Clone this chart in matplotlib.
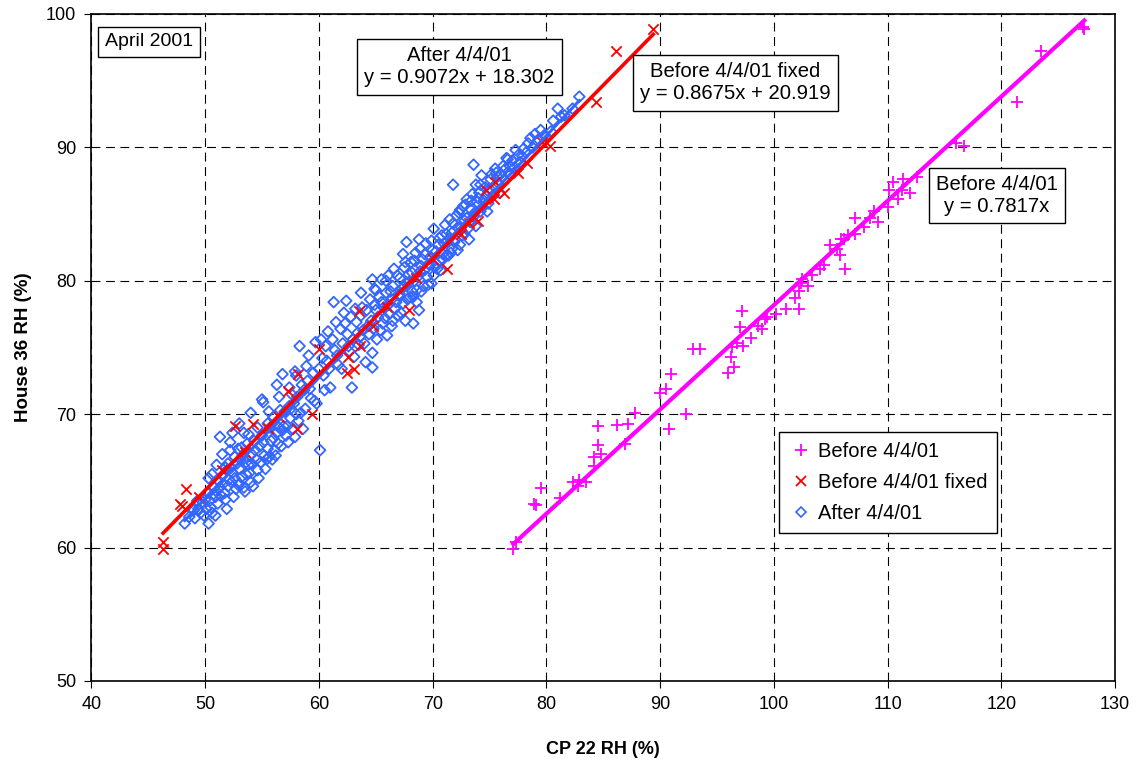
import numpy as np
import matplotlib
matplotlib.use("Agg")
import matplotlib.pyplot as plt
from matplotlib.lines import Line2D

plt.rcParams['font.family'] = ['Liberation Sans', 'DejaVu Sans']

# Before 4/4/01 (magenta +)
before_x = [77.3, 77.1, 79.5, 78.9, 79.1, 81.2, 82.3, 82.9, 82.8, 83.5, 84.2, 84.2, 84.8, 84.5, 84.5,
            86.9, 86.2, 87.2, 87.8, 90.0, 90.5, 92.3, 90.8, 91.0, 92.9, 93.5, 96.0, 96.5, 96.2, 96.3,
            97.2, 97.0, 96.8, 97.3, 98.0, 98.6, 99.0, 99.2, 99.4, 100.2, 101.1, 101.9, 102.2, 102.2,
            102.4, 102.5, 103.0, 103.4, 104.1, 104.4, 104.9, 105.6, 105.8, 105.9, 106.2, 106.3, 106.5,
            107.1, 107.1, 107.9, 108.5, 108.8, 109.2, 110.0, 110.1, 110.5, 110.9, 111.3, 111.4, 112.0,
            112.6, 116.0, 116.7, 121.4, 123.5, 127.2, 127.3]
before_y = [60.4, 59.9, 64.5, 63.3, 63.2, 63.7, 64.9, 65.1, 64.6, 64.9, 66.1, 66.8, 67.0, 67.7, 69.1,
            67.8, 69.2, 69.3, 70.1, 71.6, 71.9, 70.0, 68.9, 73.0, 74.9, 74.9, 73.1, 73.5, 74.3, 75.0,
            77.7, 76.5, 75.3, 75.1, 75.7, 76.6, 76.4, 77.1, 77.3, 77.5, 77.9, 78.7, 77.9, 79.2,
            79.8, 80.1, 79.6, 80.4, 80.9, 81.2, 82.7, 82.4, 81.9, 83.1, 83.1, 80.9, 83.4,
            83.5, 84.7, 84.0, 84.7, 85.2, 84.4, 85.5, 86.8, 87.4, 86.1, 86.8, 87.6, 86.6,
            87.8, 90.3, 90.1, 93.4, 97.2, 99.0, 98.9]

# Before 4/4/01 fixed (red x)
fixed_x = [46.3, 46.3, 47.8, 48.0, 48.3, 49.5, 51.5, 52.6, 53.5, 54.2, 55.5, 56.5, 57.3, 58.1, 58.2,
           59.4, 60.0, 62.5, 62.6, 63.1, 63.6, 63.5, 64.8, 66.0, 67.9, 68.5, 70.0, 71.3, 72.5, 73.2,
           74.0, 74.7, 75.5, 76.3, 75.4, 77.5, 78.3, 79.6, 80.3, 84.4, 86.1, 89.4]
fixed_y = [60.4, 59.9, 63.3, 63.1, 64.4, 63.8, 65.8, 69.1, 67.2, 69.3, 69.0, 69.8, 71.7, 68.9, 73.0,
           70.0, 74.9, 73.1, 74.3, 73.4, 75.1, 77.7, 76.6, 78.0, 77.8, 80.2, 81.6, 80.9, 83.5, 84.3,
           84.5, 86.8, 87.4, 86.6, 86.1, 88.1, 88.8, 90.4, 90.1, 93.4, 97.2, 98.9]

# After 4/4/01 (blue diamonds)
after_x = [48.2, 48.6, 49.0, 49.1, 49.4, 49.6, 49.8, 50.0, 50.2, 50.3, 50.3, 50.5, 50.6, 50.8, 50.9,
           51.0, 51.2, 51.3, 51.4, 51.6, 51.8, 51.9, 51.9, 52.0, 52.2, 52.2, 52.3, 52.4, 52.6, 52.7,
           52.9, 53.0, 53.1, 53.2, 53.4, 53.5, 53.6, 53.8, 54.0, 54.0, 54.1, 54.3, 54.5, 54.7, 54.8,
           55.0, 55.0, 55.1, 55.2, 55.4, 55.5, 55.6, 55.8, 56.0, 56.1, 56.3, 56.3, 56.4, 56.6, 56.8,
           56.9, 57.1, 57.3, 57.4, 57.6, 57.9, 57.9, 58.0, 58.3, 58.4, 58.6, 58.7, 59.0, 59.1, 59.3,
           59.7, 59.8, 60.0, 60.1, 60.2, 60.4, 60.7, 61.0, 61.3, 61.4, 61.7, 61.9, 62.1, 62.4, 62.5,
           62.7, 62.9, 63.0, 63.3, 63.5, 63.7, 63.9, 64.1, 64.2, 64.4, 64.6, 64.7, 64.7, 64.7, 64.9,
           65.1, 65.2, 65.3, 65.5, 65.6, 65.7, 65.9, 66.0, 66.1, 66.2, 66.4, 66.4, 66.5, 66.6, 66.7,
           66.9, 67.0, 67.1, 67.3, 67.4, 67.4, 67.5, 67.6, 67.7, 67.7, 67.9, 68.0, 68.1, 68.3, 68.3,
           68.4, 68.5, 68.6, 68.8, 68.8, 68.9, 68.9, 69.1, 69.2, 69.4, 69.5, 69.7, 69.9, 70.0, 70.1,
           70.2, 70.4, 70.5, 70.6, 70.8, 70.9, 71.1, 71.2, 71.3, 71.5, 71.6, 71.7, 71.8, 71.9, 72.1,
           72.3, 72.4, 72.5, 72.7, 72.8, 73.0, 73.0, 73.2, 73.3, 73.5, 73.6, 73.6, 73.8, 73.9, 74.1,
           74.2, 74.3, 74.5, 74.6, 74.9, 74.9, 75.1, 75.3, 75.5, 75.6, 75.8, 76.0, 76.4, 76.5, 76.6,
           76.8, 77.2, 77.5, 77.9, 78.2, 78.4, 78.8, 79.3, 79.8, 80.4, 81.0, 81.6, 82.3, 82.9,
           50.1, 50.4, 50.7, 50.9, 51.1, 51.3, 51.5, 51.7, 51.8, 52.0, 52.1, 52.3, 52.5, 52.6, 52.8,
           52.9, 53.0, 53.2, 53.3, 53.4, 53.6, 53.7, 53.9, 54.1, 54.2, 54.4, 54.6, 54.9, 55.1, 55.3,
           55.5, 55.7, 55.9, 56.0, 56.2, 56.5, 56.7, 56.8, 57.0, 57.2, 57.5, 57.7, 57.8, 58.1, 58.2,
           58.5, 58.8, 59.2, 59.5, 59.6, 60.3, 60.5, 60.9, 61.2, 61.6, 62.0, 62.3, 62.6, 62.8, 63.1,
           63.4, 63.6, 63.8, 64.0, 64.3, 64.5, 64.8, 65.0, 65.0, 65.4, 65.5, 65.8, 65.9, 66.1, 66.3,
           66.5, 66.8, 66.9, 67.1, 67.2, 67.5, 67.6, 67.8, 67.9, 68.2, 68.2, 68.4, 68.6, 68.7, 69.0,
           69.0, 69.3, 69.3, 69.6, 69.8, 69.9, 70.1, 70.3, 70.3, 70.6, 70.7, 70.9, 71.0, 71.2, 71.4,
           71.5, 71.7, 71.8, 72.0, 72.2, 72.2, 72.4, 72.6, 72.8, 72.9, 73.1, 73.3, 73.4, 73.7, 73.8,
           74.0, 74.2, 74.4, 74.7, 74.8, 75.0, 75.2, 75.4, 75.7, 75.9, 76.2, 76.3, 76.7, 77.0, 77.3,
           77.7, 78.0, 78.6, 79.0, 79.5, 80.0, 80.6, 81.3, 56.5, 57.4, 58.9, 60.6, 55.6, 54.6, 53.8,
           61.5, 63.2, 62.2, 64.9, 63.7, 60.8, 58.0, 49.3, 49.9, 50.6, 51.0, 51.5, 52.4, 53.0]
after_y = [61.8, 62.3, 62.8, 62.2, 62.9, 62.6, 63.4, 63.6, 64.1, 61.8, 65.2, 63.0, 62.6, 64.5, 63.8,
           64.2, 65.0, 68.3, 63.9, 64.8, 63.6, 62.9, 65.8, 66.3, 67.9, 67.3, 64.9, 65.6, 66.8, 64.4,
           64.7, 65.9, 66.6, 67.5, 68.6, 64.2, 65.5, 66.2, 64.9, 70.1, 67.0, 68.0, 66.6, 65.2, 67.6,
           71.1, 68.4, 70.9, 66.9, 66.6, 69.3, 66.8, 68.0, 69.8, 67.3, 68.6, 72.2, 67.8, 70.3, 73.0,
           69.1, 68.4, 67.9, 70.6, 71.5, 68.3, 73.2, 70.0, 75.1, 70.1, 68.9, 71.8, 72.5, 74.4, 71.2,
           75.4, 70.8, 73.4, 67.3, 75.6, 72.9, 74.0, 72.0, 78.4, 74.8, 73.7, 76.4, 75.3, 78.5, 76.0,
           74.7, 72.0, 75.6, 76.9, 75.2, 77.4, 76.3, 73.9, 77.8, 76.0, 77.0, 73.5, 74.6, 80.1, 78.2,
           75.6, 77.3, 78.8, 80.1, 76.8, 78.0, 79.1, 75.9, 80.4, 77.5, 76.6, 78.6, 79.6, 80.9, 77.9,
           77.4, 78.9, 80.2, 79.4, 82.0, 78.3, 81.0, 77.0, 79.8, 82.9, 80.5, 78.8, 81.4, 76.8, 78.8,
           80.0, 82.1, 79.3, 77.8, 83.1, 82.4, 80.7, 81.6, 79.6, 82.8, 80.3, 81.2, 79.8, 82.3, 83.9,
           81.0, 80.9, 82.7, 81.5, 83.4, 82.0, 84.2, 81.9, 83.0, 84.6, 82.1, 83.6, 87.2, 82.9, 84.9,
           85.1, 82.7, 84.0, 85.6, 83.5, 86.1, 84.7, 83.1, 85.4, 86.5, 88.7, 84.8, 87.2, 85.9, 86.6,
           85.2, 87.9, 86.0, 87.0, 86.7, 85.8, 87.6, 86.4, 88.4, 88.1, 87.3, 88.0, 88.4, 89.2, 89.1,
           88.6, 88.5, 89.4, 89.3, 89.6, 90.3, 90.0, 90.6, 90.9, 91.2, 92.9, 92.4, 92.9, 93.8,
           62.9, 63.5, 64.0, 62.4, 63.3, 64.5, 65.4, 64.1, 66.0, 64.6, 65.1, 66.0, 63.8, 65.2, 66.3,
           67.4, 64.8, 65.3, 66.9, 64.5, 66.4, 67.8, 65.6, 66.3, 64.6, 67.3, 65.8, 66.4, 67.9, 65.9,
           67.4, 69.0, 66.6, 68.2, 66.9, 69.0, 67.6, 68.8, 70.2, 69.1, 69.7, 68.9, 70.8, 71.3, 69.5,
           72.2, 70.4, 71.9, 73.1, 71.0, 74.2, 71.8, 73.4, 75.6, 74.4, 73.4, 76.8, 75.1, 77.3, 74.3,
           76.1, 75.8, 78.0, 75.3, 76.6, 78.6, 76.4, 77.8, 79.3, 76.3, 78.4, 77.2, 80.0, 78.2, 79.2,
           77.0, 78.4, 80.4, 79.0, 77.6, 79.6, 81.4, 78.6, 79.9, 80.6, 79.2, 81.5, 78.4, 80.3, 79.2,
           81.1, 80.8, 82.0, 79.7, 81.8, 83.0, 80.4, 82.2, 81.3, 83.2, 80.8, 81.6, 82.8, 83.5, 81.9,
           83.2, 82.4, 84.3, 83.1, 84.0, 82.3, 85.3, 83.4, 84.5, 85.7, 83.9, 84.4, 86.0, 85.1, 84.1,
           86.2, 87.2, 85.5, 86.4, 85.2, 86.9, 88.0, 87.1, 87.8, 86.6, 88.6, 87.6, 88.0, 89.0, 89.8,
           88.9, 89.9, 90.7, 91.0, 91.3, 90.8, 92.0, 92.3, 71.3, 72.0, 73.6, 75.1, 70.2, 69.0, 68.5,
           76.9, 77.9, 77.6, 79.4, 79.1, 76.2, 72.9, 63.5, 62.4, 65.5, 66.2, 67.0, 68.6, 69.3]

# trendline coefficients shown on the chart (slope, intercept)
before_fit = (0.7817, 0.0)
fixed_fit = (0.8675, 20.919)
after_fit = (0.9072, 18.302)

magenta = "#FF00FF"
red = "#FF0000"
blue = "#3366FF"

fig = plt.figure(figsize=(11.36, 7.63), dpi=100)
ax = fig.add_axes([0.0805, 0.1075, 0.901, 0.8742])

ax.scatter(after_x, after_y, marker="D", s=30, facecolors="none", edgecolors=blue, linewidths=1.3, zorder=3)
ax.scatter(fixed_x, fixed_y, marker="x", s=55, color=red, linewidths=1.3, zorder=4)
ax.scatter(before_x, before_y, marker="+", s=70, color=magenta, linewidths=1.3, zorder=4)

def trend(xs, fit):
    xx = np.array([min(xs), max(xs)])
    return xx, fit[0] * xx + fit[1]

xx, yy = trend(after_x, after_fit)
ax.plot(xx, yy, color=blue, lw=2.2, zorder=5)
xx, yy = trend(fixed_x, fixed_fit)
ax.plot(xx, yy, color=red, lw=2.6, zorder=6)
xx, yy = trend(before_x, before_fit)
ax.plot(xx, yy, color=magenta, lw=3, zorder=6)

ax.set_xlim(40, 130)
ax.set_ylim(50, 100)
ax.set_xticks(np.arange(40, 131, 10))
ax.set_yticks(np.arange(50, 101, 10))
ax.grid(True, color="black", linestyle=(0, (8, 5)), linewidth=0.8)
ax.tick_params(labelsize=13, length=5, direction="out", pad=6)
for s in ax.spines.values():
    s.set_linewidth(1.2)

ax.set_xlabel("CP 22 RH (%)", fontsize=13, fontweight="bold", labelpad=20)
ax.set_ylabel("House 36 RH (%)", fontsize=13.5, fontweight="bold", labelpad=10)

box = dict(boxstyle="square,pad=0.35", fc="white", ec="black", lw=1)
ax.text(45.06, 97.9, "April 2001", fontsize=14, ha="center", va="center", bbox=box, zorder=8)
ax.text(72.35, 96.03, "After 4/4/01\ny = 0.9072x + 18.302", fontsize=14.6, ha="center", va="center",
        linespacing=1.2, bbox=box, zorder=8)
ax.text(96.6, 94.83, "Before 4/4/01 fixed\ny = 0.8675x + 20.919", fontsize=14.6, ha="center", va="center",
        linespacing=1.2, bbox=box, zorder=8)
ax.text(119.6, 86.4, "Before 4/4/01\ny = 0.7817x", fontsize=14.6, ha="center", va="center",
        linespacing=1.2, bbox=box, zorder=8)

handles = [
    Line2D([], [], marker="+", color=magenta, ls="none", markersize=8, mew=1.3),
    Line2D([], [], marker="x", color=red, ls="none", markersize=7, mew=1.3),
    Line2D([], [], marker="D", color=blue, mfc="none", ls="none", markersize=5, mew=1.2),
]
leg = ax.legend(handles, ["Before 4/4/01", "Before 4/4/01 fixed", "After 4/4/01"],
                loc="upper left", bbox_to_anchor=(0.672, 0.373), borderaxespad=0, fontsize=14.5,
                fancybox=False, framealpha=1, edgecolor="black", handletextpad=0.2,
                handlelength=1.2, borderpad=0.5, labelspacing=0.6)
leg.get_frame().set_linewidth(1)
leg.set_zorder(9)

fig.savefig("out.png", dpi=100)
